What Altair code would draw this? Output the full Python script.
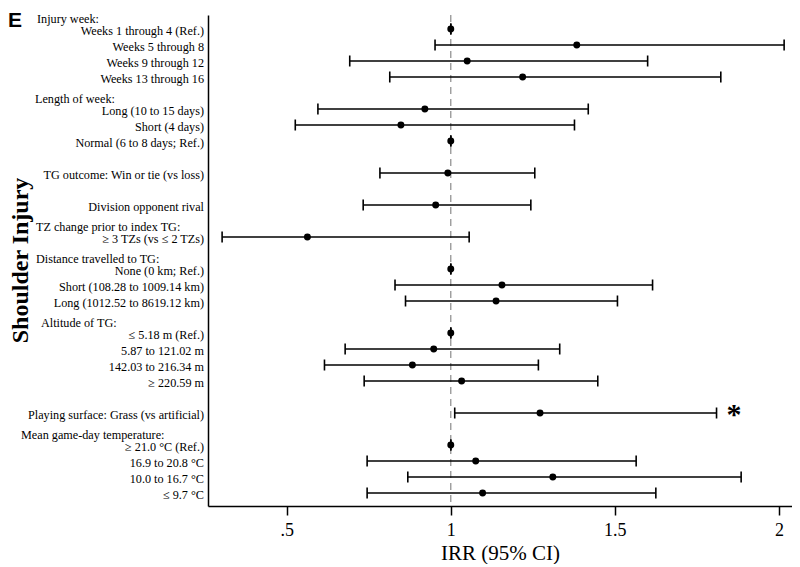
import altair as alt
import pandas as pd

# ---- data ----
group_headers = [
    "Injury week:",
    "Length of week:",
    None,
    None,
    "TZ change prior to index TG:",
    "Distance travelled to TG:",
    "Altitude of TG:",
    None,
    "Mean game-day temperature:",
]
group_items = [
    ["Weeks 1 through 4 (Ref.)", "Weeks 5 through 8", "Weeks 9 through 12", "Weeks 13 through 16"],
    ["Long (10 to 15 days)", "Short (4 days)", "Normal (6 to 8 days; Ref.)"],
    ["TG outcome: Win or tie (vs loss)"],
    ["Division opponent rival"],
    ["≥ 3 TZs (vs ≤ 2 TZs)"],
    ["None (0 km; Ref.)", "Short (108.28 to 1009.14 km)", "Long (1012.52 to 8619.12 km)"],
    ["≤ 5.18 m (Ref.)", "5.87 to 121.02 m", "142.03 to 216.34 m", "≥ 220.59 m"],
    ["Playing surface: Grass (vs artificial)"],
    ["≥ 21.0 °C (Ref.)", "16.9 to 20.8 °C", "10.0 to 16.7 °C", "≤ 9.7 °C"],
]
irr = [1, 1.384, 1.050, 1.219,
       0.921, 0.848, 1,
       0.991,
       0.954,
       0.563,
       1, 1.156, 1.138,
       1, 0.948, 0.883, 1.033,
       1.272,
       1, 1.076, 1.311, 1.097]
ci_low = [1, 0.952, 0.692, 0.814,
          0.595, 0.526, 1,
          0.784,
          0.733,
          0.303,
          1, 0.830, 0.862,
          1, 0.678, 0.615, 0.736,
          1.012,
          1, 0.745, 0.869, 0.745]
ci_high = [1, 2.016, 1.600, 1.823,
           1.419, 1.377, 1,
           1.256,
           1.244,
           1.056,
           1, 1.615, 1.508,
           1, 1.332, 1.267, 1.448,
           1.810,
           1, 1.565, 1.885, 1.625]
significance = ["", "", "", "",
                "", "", "",
                "",
                "",
                "",
                "", "", "",
                "", "", "", "",
                "*",
                "", "", "", ""]
x_ticks = [0.5, 1, 1.5, 2]

# ---- style constants ----
SERIF = "Liberation Serif"
header_left_px = [37, 35, None, None, 36, 36, 41, None, 21]  # page x of header text
PLOT_LEFT = 208

# ---- build row layout (rows in units of one line) ----
rows, heads = [], []
pos = 0.75
k = 0
for gi, (h, items) in enumerate(zip(group_headers, group_items)):
    if gi > 0:
        pos += 2
    if h is not None:
        heads.append({"header": h, "pos": pos - 0.78, "hx": header_left_px[gi] - PLOT_LEFT})
    for j, it in enumerate(items):
        if j > 0:
            pos += 1
        rows.append({"label": it, "pos": pos, "irr": irr[k], "lo": ci_low[k],
                     "hi": ci_high[k], "sig": significance[k]})
        k += 1

df = pd.DataFrame(rows)
dh = pd.DataFrame(heads)
dsig = df[df["sig"] != ""]

xs = alt.Scale(domain=[0.26, 2.04], nice=False, zero=False)
ys = alt.Scale(domain=[-0.125, 30.5625], nice=False, zero=False, reverse=True)
Y = alt.Y("pos:Q", scale=ys, title=None)

base = alt.Chart(df)

ref_line = alt.Chart(pd.DataFrame({"x": [1.0]})).mark_rule(
    color="#8a8a8a", strokeDash=[7, 5], strokeWidth=1.2
).encode(x=alt.X("x:Q", scale=xs, title="IRR (95% CI)",
                 axis=alt.Axis(values=x_ticks, format=".1~f",
                               labelExpr="indexof(datum.label, '0.') == 0 ? substring(datum.label, 1) : datum.label")))

ci = base.mark_rule(color="black", strokeWidth=1.6).encode(
    x=alt.X("lo:Q", scale=xs), x2="hi:Q", y=Y)
cap_lo = base.mark_tick(orient="vertical", size=11, thickness=1.6, color="black", opacity=1).encode(
    x=alt.X("lo:Q", scale=xs), y=Y)
cap_hi = base.mark_tick(orient="vertical", size=11, thickness=1.6, color="black", opacity=1).encode(
    x=alt.X("hi:Q", scale=xs), y=Y)
pts = base.mark_circle(size=48, color="black", opacity=1).encode(
    x=alt.X("irr:Q", scale=xs), y=Y)

labels = base.mark_text(align="right", baseline="middle", font=SERIF, fontSize=12.2,
                        color="black", dy=2).encode(
    x=alt.value(-4), y=Y, text="label:N")
headers = alt.Chart(dh).mark_text(align="left", baseline="middle", font=SERIF, fontSize=12.2,
                                  color="black", dy=2).encode(
    x=alt.X("hx:Q", scale=None), y=Y, text="header:N")

stars = alt.Chart(dsig).mark_text(align="left", baseline="middle", font=SERIF, fontSize=30,
                                  fontWeight="bold", color="black", dx=10, dy=2).encode(
    x=alt.X("hi:Q", scale=xs), y=Y, text="sig:N")

ytitle = alt.Chart(pd.DataFrame({"t": ["Shoulder Injury"]})).mark_text(
    angle=270, align="center", baseline="alphabetic", font=SERIF, fontSize=24,
    fontWeight="bold", color="black").encode(
    x=alt.value(28 - PLOT_LEFT), y=alt.value(245.5), text="t:N")

panel = alt.Chart(pd.DataFrame({"t": ["E"]})).mark_text(
    align="left", baseline="alphabetic", font="Liberation Sans", fontSize=21,
    fontWeight="bold", color="black").encode(
    x=alt.value(-200), y=alt.value(12), text="t:N")

chart = alt.layer(ref_line, ci, cap_lo, cap_hi, pts, labels, headers, stars, ytitle, panel).properties(
    width=584, height=491,
    autosize=alt.AutoSizeParams(type="none"),
    padding={"left": 200, "top": 7, "right": 0, "bottom": 58},
).configure_view(stroke=None).configure_axisX(
    grid=False, domainColor="black", domainWidth=1.5, tickColor="black", tickWidth=1.5,
    tickSize=9, labelFont=SERIF, labelFontSize=18, labelColor="black", labelPadding=6,
    titleFont=SERIF, titleFontSize=21, titleFontWeight="normal", titleColor="black",
    titlePadding=3,
).configure_axisY(
    grid=False, labels=False, ticks=False, domainColor="black", domainWidth=1.5, title=None,
)

chart.save("out.html", embed_options={"renderer": "svg", "actions": False})
